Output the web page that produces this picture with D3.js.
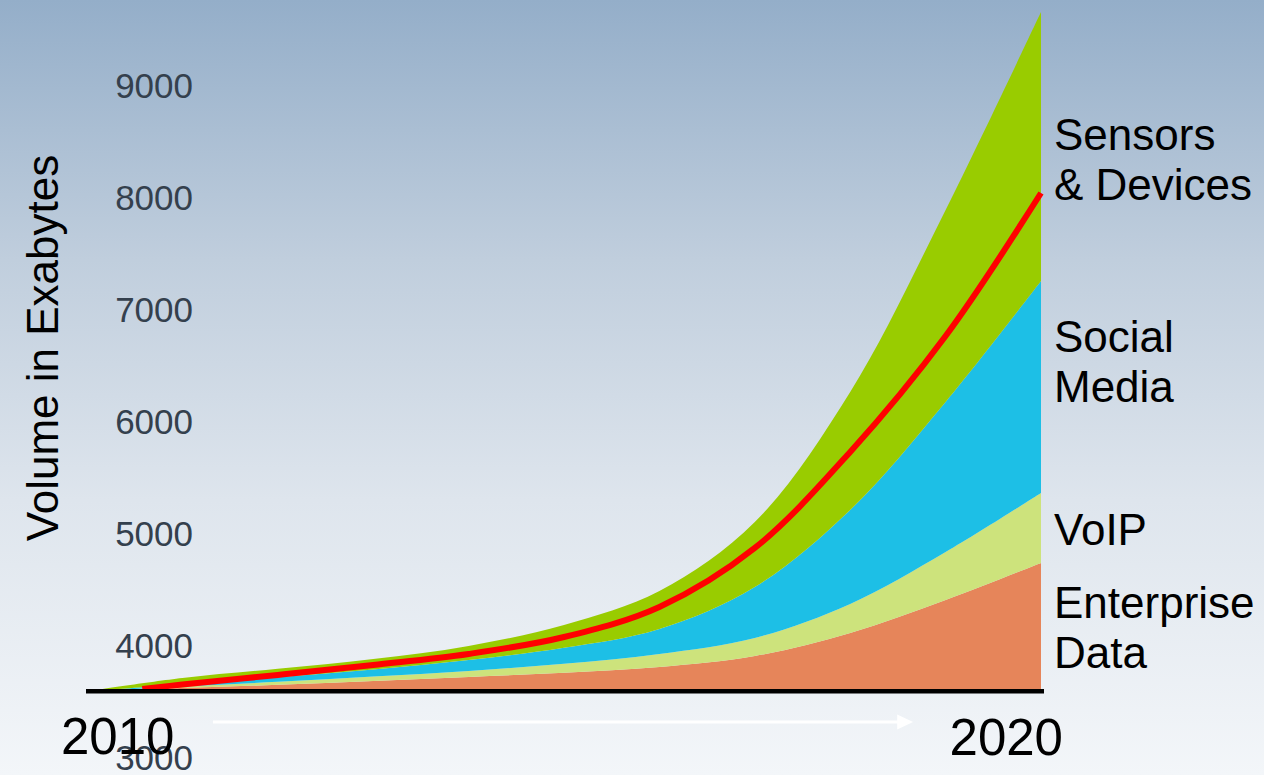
<!DOCTYPE html>
<html>
<head>
<meta charset="utf-8">
<script src="https://cdn.jsdelivr.net/npm/d3@7/dist/d3.min.js"></script>
<style>
  html, body { margin: 0; padding: 0; background: #f3f6f9; }
  svg { display: block; font-family: "Liberation Sans", Arial, Helvetica, sans-serif; }
</style>
</head>
<body>
<svg id="chart" width="1264" height="775"></svg>
<script>
// Yearly data volume by source (exabytes added on top of the base volume)
const years      = [2010, 2011, 2012, 2013, 2014, 2015, 2016, 2017, 2018, 2019, 2020];
const enterprise = [0, 29, 58, 92, 128, 165, 217, 315, 521, 815, 1146];
const voip       = [0, 13, 27, 40, 54, 80, 116, 161, 259, 429, 625];
const social     = [0, 22, 40, 63, 98, 143, 223, 455, 839, 1339, 1893];
const sensors    = [0, 54, 76, 94, 125, 205, 339, 580, 1054, 1714, 2402];
const baseVolume = 3600;

// Trend line (total volume)
const trendYears  = [2010.58, 2011, 2012, 2013, 2014, 2015, 2016, 2017, 2018, 2019, 2020];
const trendVolume = [3620, 3661, 3746, 3835, 3933, 4085, 4353, 4880, 5737, 6772, 8049];

const yTicks = [3000, 4000, 5000, 6000, 7000, 8000, 9000];
const seriesKeys   = ["enterprise", "voip", "social", "sensors"];
const seriesColors = ["#e6855a", "#cde37c", "#1dbfe6", "#99cc00"];
const seriesLabels = [["Enterprise", "Data"], ["VoIP"], ["Social", "Media"], ["Sensors", "& Devices"]];
const yAxisTitle = "Volume in Exabytes";

const svg = d3.select("#chart");
const W = 1264, H = 775;

// background gradient
const defs = svg.append("defs");
const grad = defs.append("linearGradient").attr("id", "bg").attr("x1", 0).attr("y1", 0).attr("x2", 0).attr("y2", 1);
[[0, "#94aec9"], [0.335, "#c0cedd"], [0.645, "#dee5ed"], [1, "#f3f6f9"]].forEach(([o, c]) =>
  grad.append("stop").attr("offset", o).attr("stop-color", c));
svg.append("rect").attr("width", W).attr("height", H).attr("fill", "url(#bg)");

const x = d3.scaleLinear().domain([2010, 2020]).range([87, 1041]);
const y = d3.scaleLinear().domain([3000, 9000]).range([758.5, 86.5]);

const table = years.map((yr, i) => ({
  year: yr, enterprise: enterprise[i], voip: voip[i], social: social[i], sensors: sensors[i]
}));
const stacked = d3.stack().keys(seriesKeys)(table);

const curve = d3.curveCatmullRom.alpha(0.5);
const area = d3.area()
  .x(d => x(d.data.year))
  .y0(d => y(baseVolume + d[0]))
  .y1(d => y(baseVolume + d[1]))
  .curve(curve);

svg.append("g").selectAll("path").data(stacked).join("path")
  .attr("d", area)
  .attr("fill", (d, i) => seriesColors[i]);

// trend line
const trend = trendYears.map((yr, i) => [yr, trendVolume[i]]);
svg.append("path")
  .datum(trend)
  .attr("d", d3.line().x(d => x(d[0])).y(d => y(d[1])).curve(curve))
  .attr("fill", "none")
  .attr("stroke", "#ff0000")
  .attr("stroke-width", 6)
  .attr("stroke-linecap", "butt");

// baseline
const baseY = y(baseVolume);
svg.append("line")
  .attr("x1", x(2010) - 1).attr("x2", x(2020) + 3)
  .attr("y1", baseY).attr("y2", baseY)
  .attr("stroke", "#000").attr("stroke-width", 4.5);

// time arrow
const arrowY = 722;
const ax0 = x(2011.32), ax1 = x(2018.66);
svg.append("line")
  .attr("x1", ax0).attr("x2", ax1 - 14)
  .attr("y1", arrowY).attr("y2", arrowY)
  .attr("stroke", "#ffffff").attr("stroke-width", 3);
svg.append("path")
  .attr("d", `M${ax1},${arrowY} L${ax1 - 16},${arrowY - 7.5} L${ax1 - 16},${arrowY + 7.5} Z`)
  .attr("fill", "#ffffff");

// y axis tick labels
const yAxis = svg.append("g")
  .attr("transform", "translate(193,0)")
  .call(d3.axisLeft(y).tickValues(yTicks).tickSize(0).tickPadding(0).tickFormat(d3.format("d")));
yAxis.select(".domain").remove();
yAxis.selectAll("text")
  .attr("font-size", 35)
  .attr("font-family", "\"Liberation Sans\", Arial, sans-serif")
  .attr("fill", "#34404d");

// year labels
svg.append("text").attr("x", x(2010) - 26).attr("y", 754)
  .attr("font-size", 51).attr("fill", "#000").attr("text-anchor", "start").text(years[0]);
svg.append("text").attr("x", x(2020) + 22).attr("y", 755)
  .attr("font-size", 51).attr("fill", "#000").attr("text-anchor", "end").text(years[years.length - 1]);

// series labels
const labelBaselines = [618, 545, 351.7, 150];
seriesLabels.forEach((lines, i) => {
  const t = svg.append("text").attr("x", 1054).attr("y", labelBaselines[i])
    .attr("font-size", 44).attr("fill", "#000");
  lines.forEach((ln, j) => t.append("tspan").attr("x", 1054).attr("dy", j === 0 ? 0 : 50).text(ln));
});

// y axis title
svg.append("text")
  .attr("transform", "translate(58,348) rotate(-90)")
  .attr("text-anchor", "middle")
  .attr("font-size", 44).attr("fill", "#000")
  .text(yAxisTitle);
</script>
</body>
</html>
